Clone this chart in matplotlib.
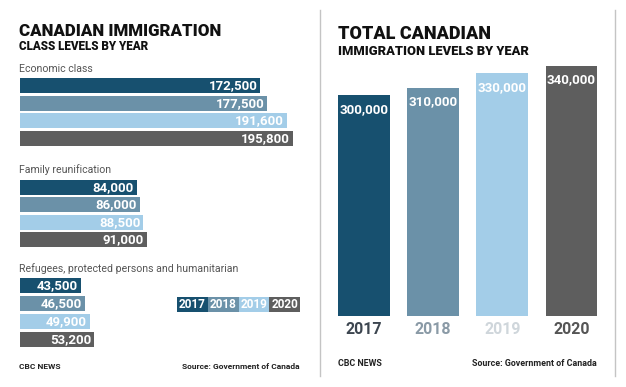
import matplotlib
matplotlib.use("Agg")
import matplotlib.pyplot as plt

W, H = 626, 387
plt.rcParams['font.family'] = ['Roboto', 'DejaVu Sans']
plt.rcParams['font.stretch'] = 'condensed'

years = ["2017", "2018", "2019", "2020"]
colors = ["#17506f", "#6b91a8", "#a3cde8", "#5e5e5e"]
year_label_colors = ["#3d4650", "#8a9aa6", "#cfd6db", "#555555"]

categories = ["Economic class", "Family reunification",
              "Refugees, protected persons and humanitarian"]
economic = [172500, 177500, 191600, 195800]
family = [84000, 86000, 88500, 91000]
refugees = [43500, 46500, 49900, 53200]
class_values = [economic, family, refugees]

totals = [300000, 310000, 330000, 340000]

fig = plt.figure(figsize=(W / 100, H / 100), dpi=100)
fig.patch.set_facecolor("white")


def fx(x):
    return x / W


def fy(y):
    return 1 - y / H


def add_ax(x0, y0, x1, y1):
    ax = fig.add_axes([fx(x0), fy(y1), fx(x1) - fx(x0), (y1 - y0) / H])
    ax.set_axis_off()
    return ax


def fmt(v):
    return f"{v:,}"


TITLE_C = "#111111"
TW = 900

# ---------- Left panel ----------
fig.text(fx(19), fy(36), "CANADIAN IMMIGRATION", fontsize=12.2, fontweight=TW,
         color=TITLE_C, ha="left", va="baseline")
fig.text(fx(19), fy(49.5), "CLASS LEVELS BY YEAR", fontsize=8.4, fontweight=TW,
         color=TITLE_C, ha="left", va="baseline")

label_base = [72, 173, 272]
axes_spans = [(76.7, 147.4), (178.8, 248.2), (276.6, 348.4)]
px_per_unit = 0.001394
x_left, x_right = 20, 300
for cat, vals, ly, (t, b) in zip(categories, class_values, label_base, axes_spans):
    fig.text(fx(19), fy(ly), cat, fontsize=7.6, color="#555555",
             ha="left", va="baseline")
    ax = add_ax(x_left, t, x_right, b)
    ax.set_xlim(0, (x_right - x_left) / px_per_unit)
    ax.set_ylim(3.5, -0.5)
    pos = list(range(len(vals)))
    ax.barh(pos, vals, height=0.85, color=colors)
    for p, v in zip(pos, vals):
        ax.annotate(fmt(v), (v, p), xytext=(-2.2, 0), textcoords="offset points",
                    ha="right", va="center", color="white", fontsize=9.5,
                    fontweight="bold")

# legend
lax = add_ax(177, 297, 300, 312)
lax.set_xlim(0, 4)
lax.set_ylim(0, 1)
lax.bar([i + 0.5 for i in range(4)], [1] * 4, width=1.0, color=colors)
for i, yr in enumerate(years):
    lax.text(i + 0.5, 0.5, yr, ha="center", va="center", color="white",
             fontsize=8.5, fontweight="bold")

fig.text(fx(19), fy(369), "CBC NEWS", fontsize=6, fontweight="bold",
         color="#222222", ha="left", va="baseline")
fig.text(fx(300), fy(369), "Source: Government of Canada", fontsize=6,
         fontweight="bold", color="#222222", ha="right", va="baseline")

# ---------- Divider lines ----------
fig.add_artist(plt.Line2D([fx(320), fx(320)], [fy(10), fy(376)],
                          color="#c4c4c4", lw=1))
fig.add_artist(plt.Line2D([fx(615), fx(615)], [fy(10), fy(376)],
                          color="#c4c4c4", lw=1))

# ---------- Right panel ----------
fig.text(fx(338), fy(39), "TOTAL CANADIAN", fontsize=13, fontweight=TW,
         color=TITLE_C, ha="left", va="baseline")
fig.text(fx(338), fy(55), "IMMIGRATION LEVELS BY YEAR", fontsize=9.3,
         fontweight=TW, color=TITLE_C, ha="left", va="baseline")

rpx = 0.000735
top_px, base_px = 40, 316
rax = add_ax(329.4, top_px, 606.1, base_px)
rax.set_axis_on()
for s in rax.spines.values():
    s.set_visible(False)
rax.set_xlim(-0.5, 3.5)
rax.set_ylim(0, (base_px - top_px) / rpx)
xpos = list(range(len(totals)))
rax.bar(xpos, totals, width=0.75, color=colors)
rax.set_yticks([])
rax.set_xticks(xpos)
rax.set_xticklabels(years, fontsize=11.5, fontweight="bold")
for lbl, c in zip(rax.get_xticklabels(), year_label_colors):
    lbl.set_color(c)
rax.tick_params(axis="x", length=0, pad=4)
for p, v in zip(xpos, totals):
    rax.annotate(fmt(v), (p, v), xytext=(0, -10), textcoords="offset points",
                 ha="center", va="center", color="white", fontsize=9.6,
                 fontweight="bold")

fig.text(fx(338), fy(366), "CBC NEWS", fontsize=6.4, fontweight="bold",
         color="#222222", ha="left", va="baseline")
fig.text(fx(597), fy(366), "Source: Government of Canada", fontsize=6.4,
         fontweight="bold", color="#222222", ha="right", va="baseline")

fig.savefig("out.png", dpi=100, facecolor="white")
